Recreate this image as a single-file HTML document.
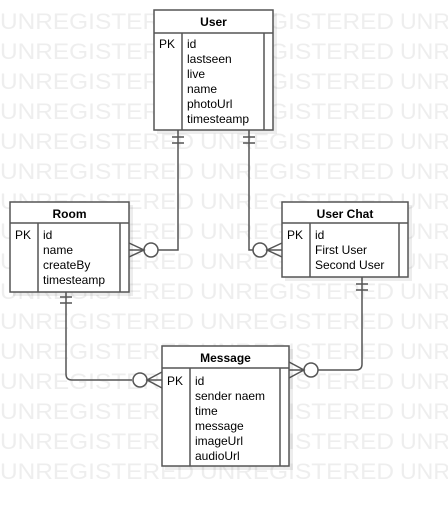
<!DOCTYPE html>
<html><head><meta charset="utf-8"><style>
html,body{margin:0;padding:0;background:#fff;}
svg{display:block;}
text{font-family:"Liberation Sans",Arial,sans-serif;}
.wm{font-size:22.5px;fill:#eeeeee;}
.t{font-size:12px;fill:#000;}
.h{font-size:12px;font-weight:bold;fill:#000;}
.b{fill:#fff;stroke:#555;stroke-width:1.5;}
.l{stroke:#555;stroke-width:1.5;fill:none;}
.s{fill:#000;opacity:0.07;}
</style></head><body>
<svg width="448" height="506" viewBox="0 0 448 506" xmlns="http://www.w3.org/2000/svg">
<defs>
<g id="row"><text x="0" y="0" textLength="194" lengthAdjust="spacingAndGlyphs">UNREGISTERED</text><text x="200" y="0" textLength="194" lengthAdjust="spacingAndGlyphs">UNREGISTERED</text><text x="400" y="0" textLength="50" lengthAdjust="spacingAndGlyphs">UNR</text></g>
</defs>
<g class="wm">
<use href="#row" y="29"/><use href="#row" y="59"/><use href="#row" y="89"/><use href="#row" y="119"/>
<use href="#row" y="149"/><use href="#row" y="179"/><use href="#row" y="209"/><use href="#row" y="239"/>
<use href="#row" y="269"/><use href="#row" y="299"/><use href="#row" y="329"/><use href="#row" y="359"/>
<use href="#row" y="389"/><use href="#row" y="419"/><use href="#row" y="449"/><use href="#row" y="479"/>
</g>

<!-- connectors -->
<path class="l" d="M178 130 V250 H158"/>
<path class="l" d="M172 137 H184 M172 143 H184"/>
<circle class="b" cx="151" cy="250" r="7"/>
<path class="l" d="M129 243 L144 250 L129 257 M129 250 H144"/>

<path class="l" d="M249 130 V250 H267"/>
<path class="l" d="M243 137 H255 M243 143 H255"/>
<circle class="b" cx="260" cy="250" r="7"/>
<path class="l" d="M282 243 L267 250 L282 257 M282 250 H267"/>

<path class="l" d="M66 292 V374 Q66 380 72 380 H132"/>
<path class="l" d="M60 297 H72 M60 303 H72"/>
<circle class="b" cx="140" cy="380" r="7"/>
<path class="l" d="M162 372 L147 380 L162 388 M162 380 H147"/>

<path class="l" d="M362 277 V364 Q362 370 356 370 H318"/>
<path class="l" d="M356 284 H368 M356 290 H368"/>
<circle class="b" cx="311" cy="370" r="7"/>
<path class="l" d="M289 362 L304 370 L289 378 M289 370 H304"/>

<!-- User -->
<rect class="s" x="157" y="13" width="120" height="121"/>
<rect class="b" x="154" y="10" width="119" height="120"/>
<path class="l" d="M154 33 H273 M182 33 V130 M264 33 V130"/>
<text class="h" x="213.5" y="26" text-anchor="middle">User</text>
<text class="t" x="159" y="48">PK</text>
<text class="t" x="187" y="48">id</text>
<text class="t" x="187" y="63">lastseen</text>
<text class="t" x="187" y="78">live</text>
<text class="t" x="187" y="93">name</text>
<text class="t" x="187" y="108">photoUrl</text>
<text class="t" x="187" y="123">timesteamp</text>

<!-- Room -->
<rect class="s" x="13" y="205" width="120" height="91"/>
<rect class="b" x="10" y="202" width="119" height="90"/>
<path class="l" d="M10 223 H129 M38 223 V292 M120 223 V292"/>
<text class="h" x="69.5" y="218" text-anchor="middle">Room</text>
<text class="t" x="15" y="239">PK</text>
<text class="t" x="43" y="239">id</text>
<text class="t" x="43" y="254">name</text>
<text class="t" x="43" y="269">createBy</text>
<text class="t" x="43" y="284">timesteamp</text>

<!-- User Chat -->
<rect class="s" x="285" y="205" width="127" height="76"/>
<rect class="b" x="282" y="202" width="126" height="75"/>
<path class="l" d="M282 223 H408 M310 223 V277 M399 223 V277"/>
<text class="h" x="345" y="218" text-anchor="middle">User Chat</text>
<text class="t" x="287" y="239">PK</text>
<text class="t" x="315" y="239">id</text>
<text class="t" x="315" y="254">First User</text>
<text class="t" x="315" y="269">Second User</text>

<!-- Message -->
<rect class="s" x="165" y="349" width="128" height="121"/>
<rect class="b" x="162" y="346" width="127" height="120"/>
<path class="l" d="M162 368 H289 M190 368 V466 M280 368 V466"/>
<text class="h" x="225.5" y="362" text-anchor="middle">Message</text>
<text class="t" x="167" y="385">PK</text>
<text class="t" x="195" y="385">id</text>
<text class="t" x="195" y="400">sender naem</text>
<text class="t" x="195" y="415">time</text>
<text class="t" x="195" y="430">message</text>
<text class="t" x="195" y="445">imageUrl</text>
<text class="t" x="195" y="460">audioUrl</text>
</svg>
</body></html>
